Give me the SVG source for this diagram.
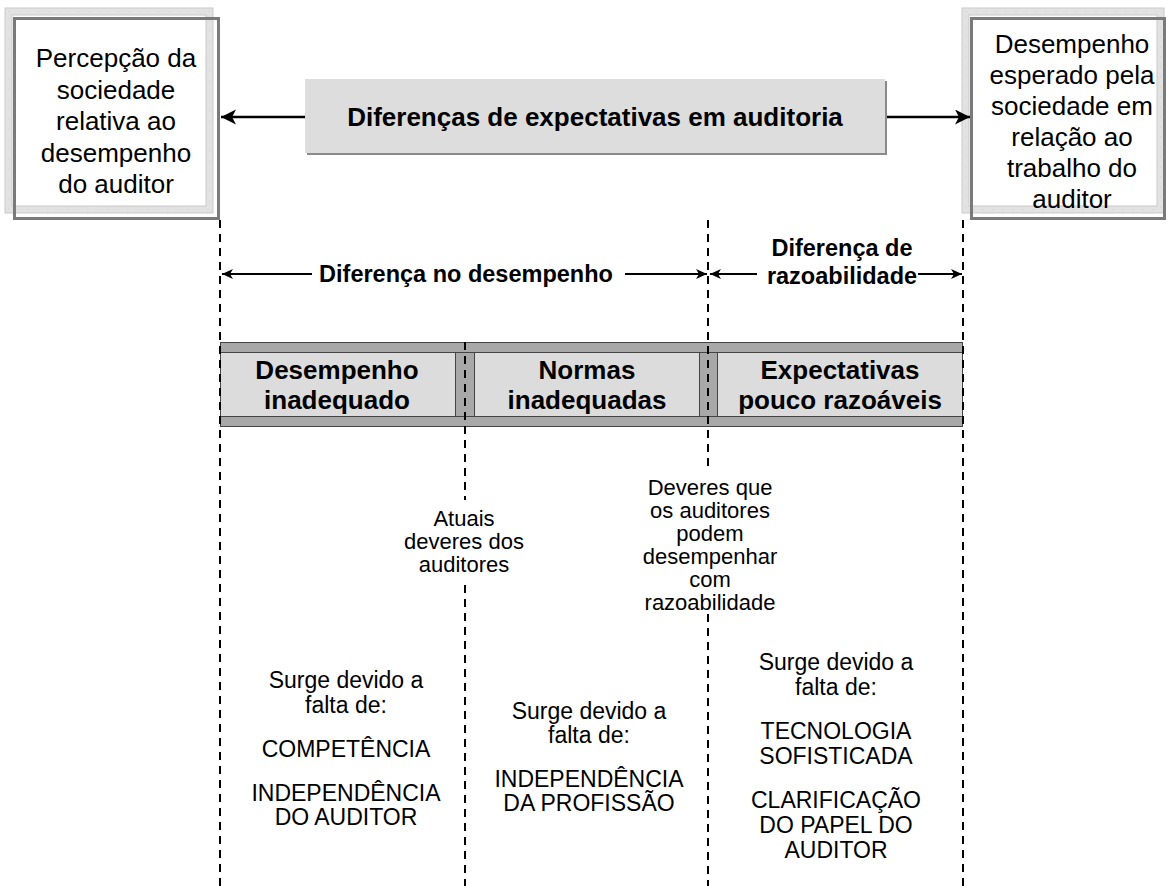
<svg xmlns="http://www.w3.org/2000/svg" width="1167" height="886" viewBox="0 0 1167 886">
<style>
text{font-family:"Liberation Sans",Arial,sans-serif;fill:#000;text-anchor:middle}
.bt{font-size:26px}
.bb{font-size:26px;font-weight:bold}
.dim{font-size:23.5px;font-weight:bold}
.lo{font-size:23px}
.mid{font-size:22px}
.frame{fill:none;stroke:#e2e2e2;stroke-width:7}
.frameedge{fill:none;stroke:#c9c9c9;stroke-width:1}
.frametick{fill:none;stroke:#cfcfcf;stroke-width:1;stroke-dasharray:1,9}
.dark{fill:none;stroke:#7a7a7a;stroke-width:3}
.dash{stroke:#000;stroke-width:2;stroke-dasharray:8,6;fill:none}
.arr{stroke:#000;stroke-width:2.5;fill:none;marker-end:url(#big)}
.darr{stroke:#000;stroke-width:2;fill:none;marker-end:url(#small)}
.stripe{fill:#a8a8a8;stroke:#444;stroke-width:1}
</style>
<defs>
<marker id="big" markerUnits="userSpaceOnUse" markerWidth="16" markerHeight="16" refX="15" refY="7.5" orient="auto"><path d="M0,0 L15,7.5 L0,15 L4,7.5 z" fill="#000"/></marker>
<marker id="small" markerUnits="userSpaceOnUse" markerWidth="12" markerHeight="12" refX="11" refY="5" orient="auto"><path d="M0,0 L11,5 L0,10 L3,5 z" fill="#000"/></marker>
</defs>
<rect width="1167" height="886" fill="#fff"/>

<g id="box-left">
<rect x="8.5" y="11.5" width="201" height="198" class="frame"/>
<rect x="5" y="8" width="208" height="205" class="frameedge"/>
<rect x="12" y="15" width="194" height="191" class="frameedge"/>
<rect x="8.5" y="11.5" width="201" height="198" class="frametick"/>
<rect x="14.5" y="18.5" width="204" height="200" class="dark"/>
<text class="bt" x="116" y="67">Percepção da</text>
<text class="bt" x="116" y="98.5">sociedade</text>
<text class="bt" x="116" y="130">relativa ao</text>
<text class="bt" x="116" y="161.5">desempenho</text>
<text class="bt" x="116" y="193">do auditor</text>
</g>

<g id="box-right">
<rect x="965.5" y="11.5" width="195" height="198" class="frame"/>
<rect x="962" y="8" width="202" height="205" class="frameedge"/>
<rect x="969" y="15" width="188" height="191" class="frameedge"/>
<rect x="965.5" y="11.5" width="195" height="198" class="frametick"/>
<rect x="971.5" y="18.5" width="193" height="200" class="dark"/>
<text class="bt" x="1072" y="53">Desempenho</text>
<text class="bt" x="1072" y="84">esperado pela</text>
<text class="bt" x="1072" y="115">sociedade em</text>
<text class="bt" x="1072" y="146">relação ao</text>
<text class="bt" x="1072" y="177">trabalho do</text>
<text class="bt" x="1072" y="208">auditor</text>
</g>

<g id="title">
<rect x="307" y="81" width="580" height="74" fill="#8a8a8a"/>
<rect x="305" y="79" width="580" height="74" fill="#dddddd"/>
<text class="bb" x="595" y="126">Diferenças de expectativas em auditoria</text>
</g>

<g id="band">
<rect x="220.5" y="342.5" width="742" height="84" fill="#dcdcdc" stroke="#444" stroke-width="1"/>
<rect x="220.5" y="342.5" width="742" height="10" class="stripe"/>
<rect x="220.5" y="416.5" width="742" height="10" class="stripe"/>
<rect x="455.5" y="352.5" width="19" height="64" class="stripe"/>
<rect x="699.5" y="352.5" width="18" height="64" class="stripe"/>
</g>

<g id="cat-desempenho">
<text class="bb" x="337" y="379">Desempenho</text>
<text class="bb" x="337" y="409">inadequado</text>
</g>
<g id="cat-normas">
<text class="bb" x="587" y="379">Normas</text>
<text class="bb" x="587" y="409">inadequadas</text>
</g>
<g id="cat-expectativas">
<text class="bb" x="840" y="379">Expectativas</text>
<text class="bb" x="840" y="409">pouco razoáveis</text>
</g>

<g id="connectors">
<line x1="305" y1="117" x2="221" y2="117" class="arr"/>
<line x1="887" y1="117" x2="970" y2="117" class="arr"/>
<line x1="220" y1="220" x2="220" y2="886" class="dash"/>
<line x1="465" y1="342" x2="465" y2="500" class="dash"/>
<line x1="465" y1="585" x2="465" y2="886" class="dash"/>
<line x1="708" y1="220" x2="708" y2="472" class="dash"/>
<line x1="708" y1="614" x2="708" y2="886" class="dash"/>
<line x1="963" y1="220" x2="963" y2="886" class="dash"/>
<line x1="312" y1="274" x2="222" y2="274" class="darr"/>
<line x1="625" y1="274" x2="707" y2="274" class="darr"/>
<line x1="757" y1="274" x2="710" y2="274" class="darr"/>
<line x1="918" y1="274" x2="962" y2="274" class="darr"/>
</g>

<g id="label-diferenca-desempenho">
<text class="dim" x="466" y="282">Diferença no desempenho</text>
</g>
<g id="label-diferenca-razoabilidade">
<text class="dim" x="842" y="256">Diferença de</text>
<text class="dim" x="842" y="284">razoabilidade</text>
</g>

<g id="label-atuais">
<text class="mid" x="464" y="526">Atuais</text>
<text class="mid" x="464" y="549">deveres dos</text>
<text class="mid" x="464" y="572">auditores</text>
</g>
<g id="label-deveres">
<text class="mid" x="710" y="495">Deveres que</text>
<text class="mid" x="710" y="518">os auditores</text>
<text class="mid" x="710" y="541">podem</text>
<text class="mid" x="710" y="564">desempenhar</text>
<text class="mid" x="710" y="587">com</text>
<text class="mid" x="710" y="610">razoabilidade</text>
</g>

<g id="causes-left">
<text class="lo" x="346" y="688">Surge devido a</text>
<text class="lo" x="346" y="713">falta de:</text>
<text class="lo" x="346" y="757">COMPETÊNCIA</text>
<text class="lo" x="346" y="801">INDEPENDÊNCIA</text>
<text class="lo" x="346" y="825">DO AUDITOR</text>
</g>
<g id="causes-middle">
<text class="lo" x="589" y="719">Surge devido a</text>
<text class="lo" x="589" y="743">falta de:</text>
<text class="lo" x="589" y="787">INDEPENDÊNCIA</text>
<text class="lo" x="589" y="811">DA PROFISSÃO</text>
</g>
<g id="causes-right">
<text class="lo" x="836" y="670">Surge devido a</text>
<text class="lo" x="836" y="695">falta de:</text>
<text class="lo" x="836" y="739">TECNOLOGIA</text>
<text class="lo" x="836" y="764">SOFISTICADA</text>
<text class="lo" x="836" y="808">CLARIFICAÇÃO</text>
<text class="lo" x="836" y="833">DO PAPEL DO</text>
<text class="lo" x="836" y="858">AUDITOR</text>
</g>
</svg>
